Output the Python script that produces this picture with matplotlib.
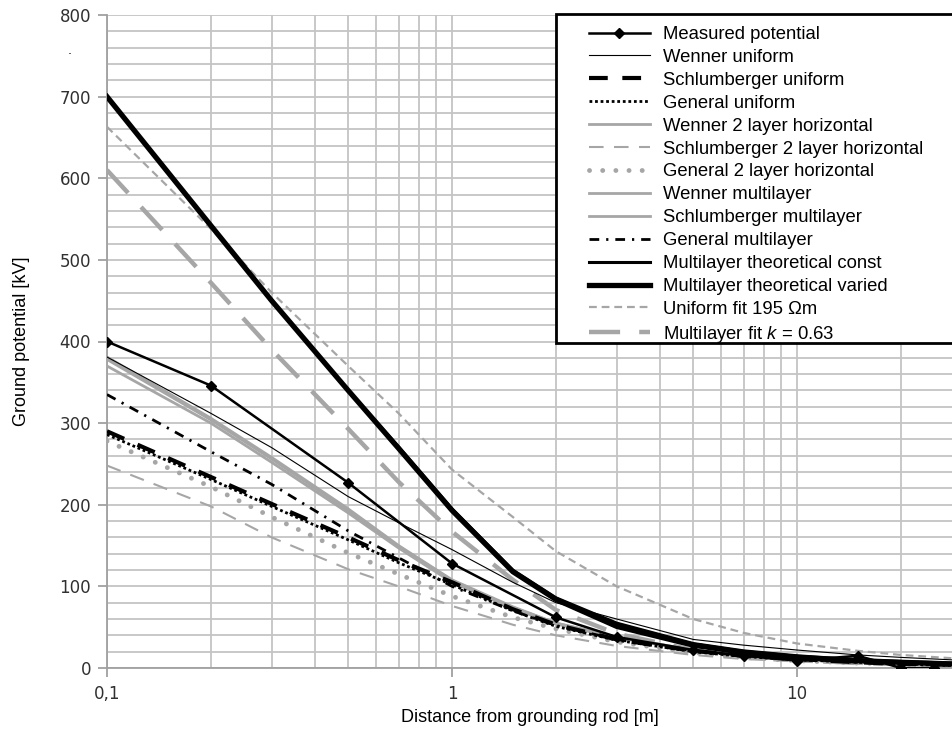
import matplotlib
matplotlib.use('Agg')
import matplotlib.pyplot as plt
from matplotlib.patches import Rectangle
from matplotlib.ticker import FixedLocator, FuncFormatter, MultipleLocator, LogLocator, NullFormatter

plt.rcParams['mathtext.fontset'] = 'custom'
plt.rcParams['mathtext.it'] = 'Liberation Sans:italic'
plt.rcParams['mathtext.rm'] = 'Liberation Sans'

# distance [m]
x_meas = [0.1, 0.2, 0.5, 1, 2, 3, 5, 7, 10, 15, 20, 25]
measured = [400, 346, 227, 128, 62, 38, 22, 15, 9, 15, 0, 0]

x_calc = [0.1, 0.2, 0.3, 0.5, 0.7, 1, 1.5, 2, 3, 5, 7, 10, 15, 20, 28]
wenner_uni = [381, 312, 270, 210, 178, 145, 105, 80, 60, 35, 28, 22, 16, 13, 10]
schl_uni = [290, 234, 201, 160, 132, 105, 72, 53, 35, 21, 15, 11, 7, 5, 4]
gen_uni = [286, 231, 198, 157, 129, 102, 70, 51, 34, 20, 14, 10, 7, 5, 3]
wenner_2l = [381, 306, 258, 195, 150, 108, 75, 55, 38, 22, 15, 11, 7, 6, 4]
schl_2l = [248, 198, 160, 121, 100, 76, 53, 40, 27, 16, 11, 8, 5, 4, 3]
gen_2l = [278, 222, 185, 141, 115, 88, 62, 48, 32, 19, 13, 9, 6, 5, 3]
wenner_ml = [370, 300, 252, 190, 147, 105, 73, 54, 37, 22, 15, 11, 7, 6, 4]
schl_ml = [378, 304, 256, 193, 149, 107, 74, 55, 38, 22, 15, 11, 7, 6, 4]
gen_ml = [335, 265, 225, 168, 135, 100, 70, 52, 35, 21, 15, 11, 7, 5, 4]
theo_const = [700, 542, 450, 340, 271, 195, 120, 86, 55, 30, 21, 15, 10, 8, 6]
theo_varied = [700, 542, 450, 340, 269, 193, 118, 84, 51, 28, 19, 13, 9, 7, 5]
uni_fit = [663, 538, 460, 370, 312, 243, 185, 143, 100, 60, 43, 30, 21, 16, 12]
ml_fit = [610, 472, 390, 293, 228, 167, 108, 71, 42, 22, 15, 10, 6, 5, 4]

gray = '#a6a6a6'
W, H = 952, 735
fig = plt.figure(figsize=(W / 100, H / 100), dpi=100)
ax = fig.add_axes([107 / W, (H - 668) / H, (W - 107) / W, (668 - 15) / H])

ax.plot(x_meas, measured, color='black', lw=1.8, marker='D', ms=5, zorder=10, label='Measured potential')
ax.plot(x_calc, wenner_uni, color='black', lw=0.8, zorder=8, label='Wenner uniform')
ax.plot(x_calc, schl_uni, color='black', lw=3, dashes=(4.5, 3.5), zorder=7, label='Schlumberger uniform')
ax.plot(x_calc, gen_uni, color='black', lw=2, dashes=(1, 1), zorder=7, label='General uniform')
ax.plot(x_calc, wenner_2l, color=gray, lw=2, zorder=5, label='Wenner 2 layer horizontal')
ax.plot(x_calc, schl_2l, color=gray, lw=1.5, dashes=(7, 5), zorder=5, label='Schlumberger 2 layer horizontal')
ax.plot(x_calc, gen_2l, color=gray, lw=3.5, dashes=(0.01, 2.7), dash_capstyle='round', zorder=5,
        label='General 2 layer horizontal')
ax.plot(x_calc, wenner_ml, color=gray, lw=2, zorder=5, label='Wenner multilayer')
ax.plot(x_calc, schl_ml, color=gray, lw=2, zorder=5, label='Schlumberger multilayer')
ax.plot(x_calc, gen_ml, color='black', lw=2, dashes=(3.5, 2.5, 0.8, 2.5), zorder=7, label='General multilayer')
ax.plot(x_calc, theo_const, color='black', lw=2.2, zorder=8, label='Multilayer theoretical const')
ax.plot(x_calc, theo_varied, color='black', lw=3.8, zorder=9, label='Multilayer theoretical varied')
ax.plot(x_calc, uni_fit, color=gray, lw=1.6, dashes=(3.5, 2.2), zorder=4, label='Uniform fit 195 \u03a9m')
ax.plot(x_calc, ml_fit, color=gray, lw=3.2, dashes=(7, 4.3), zorder=4, label='Multilayer fit $\\it{k}$ = 0.63')

ax.set_xscale('log')
ax.set_xlim(0.1, 28.1)
ax.set_ylim(0, 800)

ax.xaxis.set_major_locator(FixedLocator([0.1, 1, 10]))
ax.xaxis.set_minor_locator(LogLocator(base=10, subs=range(2, 10)))
ax.xaxis.set_minor_formatter(NullFormatter())
ax.xaxis.set_major_formatter(FuncFormatter(lambda v, p: ('%g' % v).replace('.', ',')))
ax.yaxis.set_major_locator(MultipleLocator(100))
ax.yaxis.set_minor_locator(MultipleLocator(20))

ax.grid(True, which='both', color='#c4c4c4', lw=1.3, zorder=0)
ax.set_axisbelow(True)
for s in ['top', 'right']:
    ax.spines[s].set_visible(False)
for s in ['left', 'bottom']:
    ax.spines[s].set_color('#a0a0a0')
    ax.spines[s].set_linewidth(1.3)

ax.tick_params(which='major', length=6.5, width=1.3, color='#a0a0a0', labelsize=12, labelcolor='#303030', pad=5)
ax.tick_params(axis='x', which='major', pad=6)
ax.tick_params(which='minor', length=0)

ax.set_xlabel('Distance from grounding rod [m]', fontname='Liberation Sans', fontsize=13, labelpad=4)
ax.set_ylabel('Ground potential [kV]', fontname='Liberation Sans', fontsize=13, labelpad=21)

# legend box (frame drawn separately so it runs past the right edge)
ax.add_patch(Rectangle((556 / W, 1 - 343 / H), 0.5, (343 - 14) / H, transform=fig.transFigure,
                       facecolor='white', edgecolor='black', lw=2, clip_on=False, zorder=19))
leg = ax.legend(loc='upper left', bbox_to_anchor=(589 / W, 1 - 26 / H),
                bbox_transform=fig.transFigure, frameon=False,
                handlelength=3.3, handletextpad=0.7, labelspacing=0.32,
                borderpad=0, borderaxespad=0,
                prop={'family': 'Liberation Sans', 'size': 13.3})
leg.set_zorder(20)

fig.text(70 / W, 1 - 50 / H, '.', fontsize=9, ha='center', va='center')

fig.savefig('out.png', dpi=100)
